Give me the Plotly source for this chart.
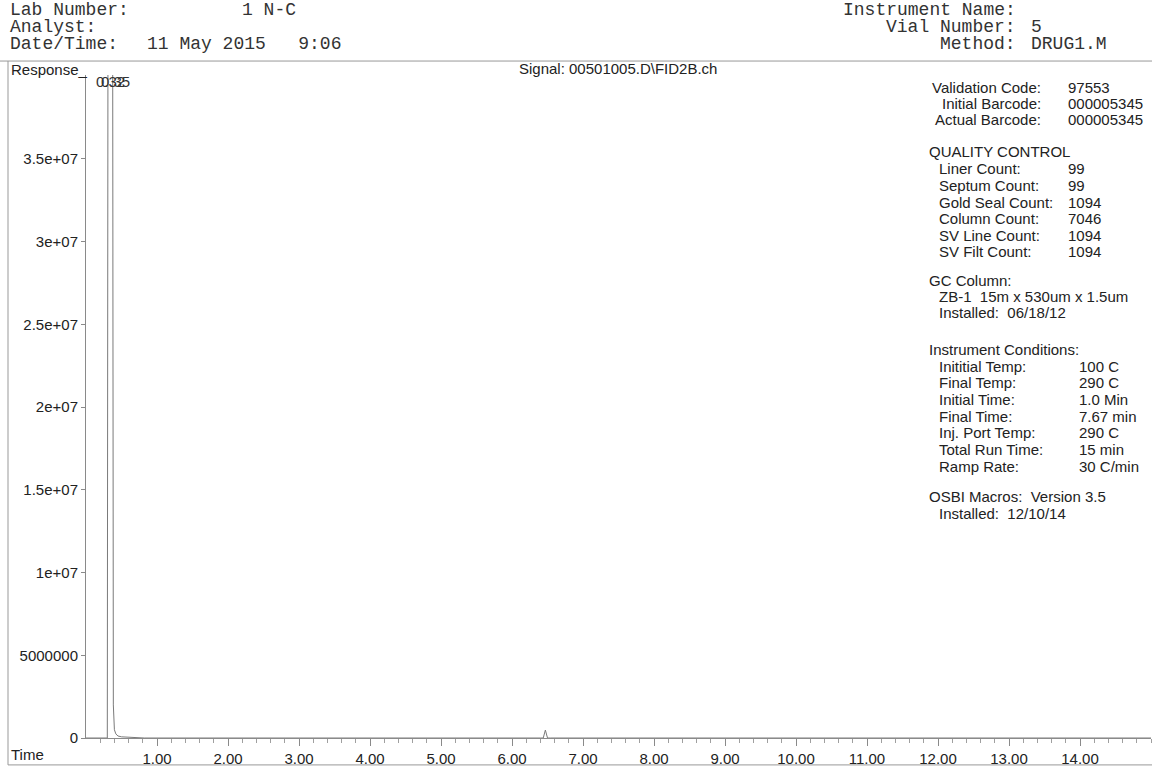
import plotly.graph_objects as go

# ---------------- data ----------------
time_min = [0.00, 0.30, 0.31, 0.375, 0.385, 0.39, 0.40, 0.42, 0.45, 0.50, 0.60, 0.70, 0.80, 0.82,
            6.40, 6.44, 6.47, 6.50, 6.54, 15.00]
response = [0, 0, 4.5e7, 4.5e7, 2.0e6, 1.0e6, 5.0e5, 2.5e5, 1.2e5, 7.0e4, 5.0e4, 4.0e4, 3.0e4, 0,
            0, 0, 4.8e5, 0, 0, 0]

peak_rt = [0.32, 0.35]
peak_labels = ["0.32", "0.35"]

x_tick_vals = [1, 2, 3, 4, 5, 6, 7, 8, 9, 10, 11, 12, 13, 14, 15]
x_tick_text = ["1.00", "2.00", "3.00", "4.00", "5.00", "6.00", "7.00", "8.00", "9.00",
               "10.00", "11.00", "12.00", "13.00", "14.00", ""]
y_tick_vals = [0, 5e6, 1e7, 1.5e7, 2e7, 2.5e7, 3e7, 3.5e7]
y_tick_text = ["0", "5000000", "1e+07", "1.5e+07", "2e+07", "2.5e+07", "3e+07", "3.5e+07"]

header_left_keys = ["Lab Number:", "Analyst:", "Date/Time:"]
header_left_vals = ["1 N-C", "", "11 May 2015   9:06"]
header_right_keys = ["Instrument Name:", "Vial Number:", "Method:"]
header_right_vals = ["", "5", "DRUG1.M"]

signal_text = "Signal: 00501005.D\\FID2B.ch"

barcode_keys = ["Validation Code:", "Initial Barcode:", "Actual Barcode:"]
barcode_vals = ["97553", "000005345", "000005345"]

qc_title = "QUALITY CONTROL"
qc_keys = ["Liner Count:", "Septum Count:", "Gold Seal Count:", "Column Count:", "SV Line Count:", "SV Filt Count:"]
qc_vals = ["99", "99", "1094", "7046", "1094", "1094"]

gc_title = "GC Column:"
gc_lines = ["ZB-1  15m x 530um x 1.5um", "Installed:  06/18/12"]

cond_title = "Instrument Conditions:"
cond_keys = ["Inititial Temp:", "Final Temp:", "Initial Time:", "Final Time:", "Inj. Port Temp:",
             "Total Run Time:", "Ramp Rate:"]
cond_vals = ["100 C", "290 C", "1.0 Min", "7.67 min", "290 C", "15 min", "30 C/min"]

osbi_title = "OSBI Macros:  Version 3.5"
osbi_lines = ["Installed:  12/10/14"]

# ---------------- layout geometry (pixels) ----------------
W, H = 1152, 768
L, R, T, B = 86, 1151, 75, 740
Y_TOP = (B - T) / 83.0 * 5e6


def px(x):
    return (x - L) / (R - L)


def py(y):
    return (B - y) / (B - T)


SANS = "Liberation Sans, Arial, sans-serif"
MONO = "Liberation Mono, Courier New, monospace"
TXT = "#222222"
GRID = "#8a8a8a"

fig = go.Figure()
fig.add_trace(go.Scatter(x=time_min, y=response, mode="lines",
                         line=dict(color="#7a7a7a", width=1), hoverinfo="skip", showlegend=False))

ann = []


def add(text, x, y, size=15, font=SANS, anchor="left", color=TXT):
    if not text:
        return
    ann.append(dict(text=text, x=px(x), y=py(y), xref="paper", yref="paper", xanchor=anchor,
                    yanchor="middle", showarrow=False, font=dict(family=font, size=size, color=color)))


# header (monospace)
hl_y = [10, 27, 44]
for k, y in zip(header_left_keys, hl_y):
    add(k, 8, y, size=18, font=MONO, color="#333333")
add(header_left_vals[0], 240, hl_y[0], size=18, font=MONO, color="#333333")
add(header_left_vals[2], 145, hl_y[2], size=18, font=MONO, color="#333333")
for k, v, y in zip(header_right_keys, header_right_vals, hl_y):
    add(k, 1018, y, size=18, font=MONO, anchor="right", color="#333333")
    add(v, 1029, y, size=18, font=MONO, color="#333333")

add("Response_", 9, 69)
add("Time", 9, 757)
add(signal_text, 517, 68)

# peak labels in data coordinates
for rt, lab, dx in zip(peak_rt, peak_labels, [0, 3]):
    ann.append(dict(text=lab, x=rt, y=py(82), xref="x", yref="paper", xanchor="center", yanchor="middle",
                    xshift=2 + dx, showarrow=False, font=dict(family=SANS, size=15, color="#333333")))

# right info panel
for k, v, y in zip(barcode_keys, barcode_vals, [88, 104, 120]):
    add(k, 1043, y, anchor="right")
    add(v, 1066, y)

add(qc_title, 927, 152)
for i, (k, v) in enumerate(zip(qc_keys, qc_vals)):
    y = 169 + i * 16.7
    add(k, 937, y)
    add(v, 1066, y)

add(gc_title, 927, 281)
for i, t in enumerate(gc_lines):
    add(t, 937, 297 + i * 16.7)

add(cond_title, 927, 350)
for i, (k, v) in enumerate(zip(cond_keys, cond_vals)):
    y = 367 + i * 16.7
    add(k, 937, y)
    add(v, 1077, y)

add(osbi_title, 927, 498)
for i, t in enumerate(osbi_lines):
    add(t, 937, 515 + i * 16.7)

shapes = [
    dict(type="line", xref="paper", yref="paper", x0=px(0), x1=px(W), y0=py(61), y1=py(61),
         line=dict(color="#999999", width=1)),
    dict(type="line", xref="paper", yref="paper", x0=px(8), x1=px(8), y0=py(61), y1=py(767),
         line=dict(color="#999999", width=1)),
    dict(type="line", xref="paper", yref="paper", x0=px(8), x1=px(W), y0=py(767), y1=py(767),
         line=dict(color="#999999", width=1)),
]

fig.update_layout(
    width=W, height=H,
    margin=dict(l=L, r=W - R, t=T, b=H - B, pad=0),
    paper_bgcolor="white", plot_bgcolor="white",
    showlegend=False,
    annotations=ann, shapes=shapes,
    xaxis=dict(range=[0, 15], tickmode="array", tickvals=x_tick_vals, ticktext=x_tick_text,
               showgrid=False, zeroline=False, showline=True, linecolor=GRID, linewidth=1,
               ticks="outside", ticklen=7, tickcolor=GRID, tickwidth=1,
               tickfont=dict(family=SANS, size=15, color=TXT),
               minor=dict(tickmode="array", tickvals=[round(i * 0.2, 1) for i in range(1, 76)],
                          ticks="outside", ticklen=4, tickcolor="#a0a0a0", showgrid=False)),
    yaxis=dict(range=[0, Y_TOP], tickmode="array", tickvals=y_tick_vals, ticktext=y_tick_text,
               showgrid=False, zeroline=False, showline=True, linecolor=GRID, linewidth=1,
               ticks="outside", ticklen=4, tickcolor=GRID, tickwidth=1,
               tickfont=dict(family=SANS, size=15, color=TXT)),
)

fig.write_html("out.html", config={"displayModeBar": False},
               post_script="document.body.style.margin='0';document.body.style.overflow='hidden';")
